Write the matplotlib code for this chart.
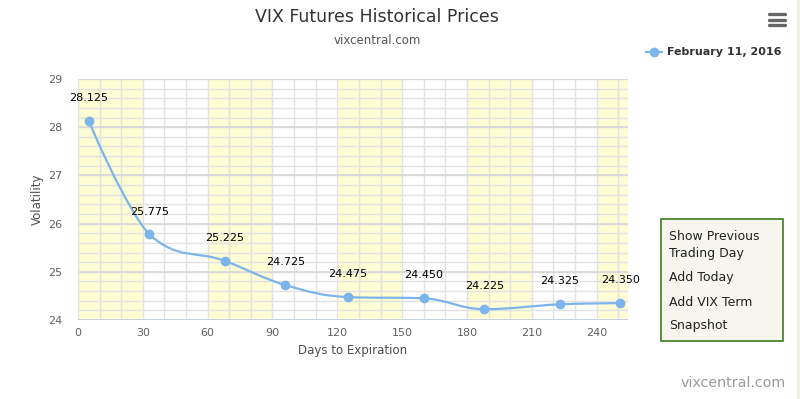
import numpy as np
import matplotlib
matplotlib.use("Agg")
import matplotlib.pyplot as plt
from matplotlib.path import Path
from matplotlib.patches import PathPatch, FancyBboxPatch, Rectangle
from matplotlib.lines import Line2D

# dados (VIX futures, 11/02/2016)
dias = [5, 33, 68, 96, 125, 160, 188, 223, 251]
precos = [28.125, 25.775, 25.225, 24.725, 24.475, 24.450, 24.225, 24.325, 24.350]
rotulos = ['28.125', '25.775', '25.225', '24.725', '24.475', '24.450', '24.225', '24.325', '24.350']
faixas = [(0, 30), (60, 90), (120, 150), (180, 210), (240, 270)]
xticks = [0, 30, 60, 90, 120, 150, 180, 210, 240]
yticks = [24, 25, 26, 27, 28, 29]

AZUL = '#7cb5ec'


def spline_path(xs, ys, smoothing=1.5):
    # curva suave no estilo do highcharts (bezier cubica)
    denom = smoothing + 1
    n = len(xs)
    right_cont = [None] * n
    verts = [(xs[0], ys[0])]
    codes = [Path.MOVETO]
    for i in range(1, n):
        px, py = xs[i], ys[i]
        lx, ly = xs[i - 1], ys[i - 1]
        lcx, lcy = px, py
        if i < n - 1:
            nx, ny = xs[i + 1], ys[i + 1]
            lcx = (smoothing * px + lx) / denom
            lcy = (smoothing * py + ly) / denom
            rcx = (smoothing * px + nx) / denom
            rcy = (smoothing * py + ny) / denom
            corr = 0
            if rcx != lcx:
                corr = ((rcy - lcy) * (rcx - px)) / (rcx - lcx) + py - rcy
            lcy += corr
            rcy += corr
            if lcy > ly and lcy > py:
                lcy = max(ly, py); rcy = 2 * py - lcy
            elif lcy < ly and lcy < py:
                lcy = min(ly, py); rcy = 2 * py - lcy
            if rcy > ny and rcy > py:
                rcy = max(ny, py); lcy = 2 * py - rcy
            elif rcy < ny and rcy < py:
                rcy = min(ny, py); lcy = 2 * py - rcy
            right_cont[i] = (rcx, rcy)
        c1 = right_cont[i - 1] if right_cont[i - 1] is not None else (lx, ly)
        verts += [c1, (lcx, lcy), (px, py)]
        codes += [Path.CURVE4] * 3
    return Path(verts, codes)


fig = plt.figure(figsize=(8, 3.99), dpi=100)
W, H = 800, 399
ax = fig.add_axes([78 / W, 1 - 320 / H, 550 / W, 241 / H])

ax.set_xlim(0, 254.5)
ax.set_ylim(24, 29)

for a, b in faixas:
    ax.axvspan(a, b, color='#fefdd3', zorder=0, lw=0)

# grade
for x in np.arange(10, 255, 10):
    ax.axvline(x, color='#e2e2e2', lw=1, zorder=1)
for y in np.arange(24.2, 29, 0.2):
    ax.axhline(y, color='#e2e2e2', lw=1, zorder=1)
for y in yticks:
    ax.axhline(y, color='#d8d8d8', lw=1.2, zorder=1)
ax.axvline(0, color='#e2e2e2', lw=1, zorder=1)

for s in ax.spines.values():
    s.set_visible(False)
ax.axhline(24, color='#c0d0e0', lw=1.2, zorder=2)

ax.set_xticks(xticks)
ax.set_yticks(yticks)
ax.tick_params(axis='both', length=0, labelsize=8, labelcolor='#606060')
ax.tick_params(axis='x', pad=6)
ax.tick_params(axis='y', pad=11)
ax.set_xlabel('Days to Expiration', fontsize=8.5, color='#4d4d4d', labelpad=4)
ax.set_ylabel('Volatility', fontsize=8.5, color='#4d4d4d', labelpad=3)

ax.add_patch(PathPatch(spline_path(dias, precos), fill=False, edgecolor=AZUL, lw=1.6, zorder=3))
ax.plot(dias, precos, 'o', color=AZUL, ms=6, zorder=4)
for x, y, r in zip(dias, precos, rotulos):
    ax.annotate(r, (x, y), xytext=(0, 16.5), textcoords='offset points',
                ha='center', va='center', fontsize=8, color='black', zorder=5)

# titulo e subtitulo
fig.text(377 / W, 1 - 17 / H, 'VIX Futures Historical Prices', ha='center', va='center',
         fontsize=12.5, color='#333333')
fig.text(377 / W, 1 - 41 / H, 'vixcentral.com', ha='center', va='center',
         fontsize=8.5, color='#555555')

# legenda
fig.add_artist(Line2D([646 / W, 662 / W], [1 - 52 / H, 1 - 52 / H], color=AZUL, lw=1.6))
fig.add_artist(Line2D([654 / W], [1 - 52 / H], marker='o', color=AZUL, ms=6))
fig.text(667 / W, 1 - 52 / H, 'February 11, 2016', ha='left', va='center',
         fontsize=8, fontweight='bold', color='#333333')

# icone de menu
for yy in [14, 19.5, 25]:
    fig.add_artist(Line2D([769 / W, 785 / W], [1 - yy / H, 1 - yy / H], color='#666666',
                          lw=2.4, solid_capstyle='round'))

# caixa de botoes
fig.add_artist(FancyBboxPatch((661 / W, 1 - 341 / H), 122 / W, 122 / H,
                              boxstyle='square,pad=0', transform=fig.transFigure,
                              facecolor='#f7f6ee', edgecolor='#3c7f1e', lw=1.2))
itens = [('Show Previous', 236), ('Trading Day', 254), ('Add Today', 278),
         ('Add VIX Term', 302), ('Snapshot', 326)]
for txt, yy in itens:
    fig.text(669 / W, 1 - yy / H, txt, ha='left', va='center', fontsize=9, color='#222222')

# marca d'agua
fig.text(786 / W, 1 - 383 / H, 'vixcentral.com', ha='right', va='center',
         fontsize=10.3, color='#9a9a9a')

fig.add_artist(Rectangle((797 / W, 0), 3 / W, 1, transform=fig.transFigure,
                         facecolor='#f3efe2', edgecolor='none'))

fig.savefig('out.png', dpi=100)
